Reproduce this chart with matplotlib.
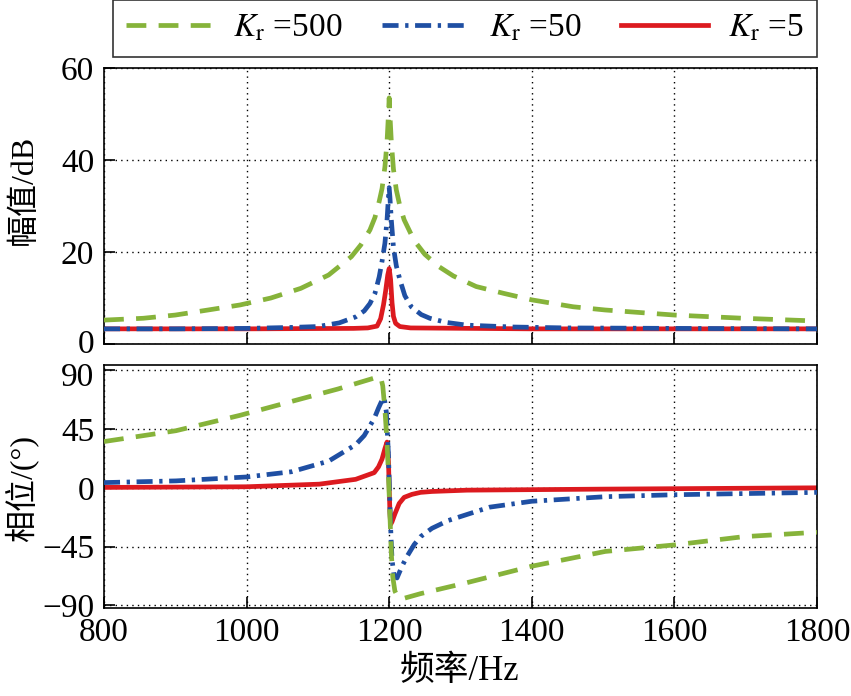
import matplotlib
matplotlib.use("Agg")
import matplotlib.pyplot as plt
import matplotlib.transforms as mtransforms
from matplotlib.lines import Line2D

plt.rcParams['font.family'] = ['Liberation Serif', 'Noto Sans CJK SC']
plt.rcParams['mathtext.fontset'] = 'stix'
plt.rcParams['font.size'] = 24

# magnitude (dB)
f_mag_500 = [800, 855, 900, 946, 991, 1034, 1076, 1115, 1147, 1160, 1173, 1180, 1186, 1190,
             1194, 1197, 1199, 1200, 1201, 1203, 1206, 1210, 1215, 1221, 1235, 1250, 1270,
             1290, 1322, 1361, 1400, 1458, 1503, 1600, 1697, 1800]
mag_500 = [5.2, 5.6, 6.3, 7.4, 8.5, 10.0, 12.1, 15.0, 19.0, 21.5, 24.8, 27.5, 31.0, 33.8,
           38.5, 44.0, 50.0, 53.5, 50.0, 44.0, 38.0, 33.5, 30.0, 27.0, 22.5, 19.5, 16.8,
           14.8, 12.5, 11.0, 9.6, 8.1, 7.4, 6.3, 5.6, 5.0]

f_mag_50 = [800, 900, 1000, 1060, 1100, 1130, 1153, 1165, 1173, 1180, 1186, 1190, 1194, 1197,
            1199, 1200, 1201, 1203, 1206, 1210, 1215, 1222, 1231, 1245, 1257, 1280, 1309,
            1374, 1450, 1600, 1800]
mag_50 = [3.3, 3.3, 3.4, 3.6, 3.8, 4.6, 5.9, 7.2, 8.8, 11.0, 14.6, 18.0, 21.9, 27.0,
          32.0, 34.0, 32.0, 27.0, 21.0, 17.0, 14.0, 10.5, 8.1, 6.4, 5.6, 4.7, 4.1,
          3.7, 3.5, 3.4, 3.3]

f_mag_5 = [800, 1000, 1150, 1170, 1183, 1188, 1192, 1195, 1198, 1200, 1202, 1204, 1206,
           1209, 1215, 1230, 1400, 1800]
mag_5 = [3.3, 3.3, 3.4, 3.5, 3.9, 5.5, 8.5, 11.5, 15.0, 16.4, 14.0, 9.0, 6.0,
         4.5, 3.8, 3.5, 3.3, 3.3]

# phase (deg)
f_ph_500 = [800, 901, 991, 1076, 1128, 1173, 1182, 1188, 1191, 1194, 1197, 1199, 1201, 1203,
            1205, 1208, 1212, 1218, 1244, 1309, 1400, 1503, 1600, 1697, 1800]
ph_500 = [35.4, 43.7, 55.5, 68.0, 75.6, 83.0, 84.5, 85.0, 78.0, 60.0, 35.0, 10.0, -20.0,
          -50.0, -68.0, -79.0, -83.5, -85.0, -81.0, -72.6, -60.0, -48.7, -43.7, -37.4, -34.0]

f_ph_50 = [800, 901, 1000, 1063, 1115, 1153, 1165, 1179, 1185, 1190, 1193, 1196, 1199, 1202,
           1204, 1207, 1211, 1218, 1225, 1235, 1244, 1260, 1283, 1341, 1400, 1503, 1600, 1800]
ph_50 = [4.0, 5.3, 8.3, 12.3, 20.4, 33.0, 40.0, 53.0, 61.0, 67.0, 69.0, 58.0, 25.0, -30.0,
         -55.0, -68.0, -69.0, -60.0, -52.5, -43.5, -37.4, -31.0, -25.0, -14.8, -10.3,
         -6.8, -5.3, -3.5]

f_ph_5 = [800, 1000, 1102, 1153, 1179, 1185, 1190, 1194, 1197, 1199, 1201, 1202, 1204, 1208,
          1214, 1221, 1232, 1244, 1260, 1309, 1500, 1800]
ph_5 = [0.3, 0.8, 2.8, 6.5, 11.6, 16.0, 22.0, 30.0, 35.0, 20.0, -18.0, -28.0, -26.0, -20.0,
        -12.0, -7.3, -5.0, -3.5, -2.8, -1.8, -1.0, 0.0]

labels = [r'$K_{\rm r}$ =500', r'$K_{\rm r}$ =50', r'$K_{\rm r}$ =5']
x_ticks = [800, 1000, 1200, 1400, 1600, 1800]

green = '#86b33a'
blue = '#1f4fa3'
red = '#dc1a1f'
lw = 3.4
st_500 = dict(color=green, lw=lw, dashes=(4.2, 2.6), zorder=4)
st_50 = dict(color=blue, lw=lw, dashes=(3.4, 1.4, 0.7, 1.4), zorder=3)
st_5 = dict(color=red, lw=lw, zorder=2)

fig = plt.figure(figsize=(8.51, 6.96), dpi=100)
ax1 = fig.add_axes([0.1222, 0.5057, 0.8378, 0.3966])
ax2 = fig.add_axes([0.1222, 0.1264, 0.8378, 0.3492])

ax1.plot(f_mag_5, mag_5, **st_5)
ax1.plot(f_mag_50, mag_50, **st_50)
ax1.plot(f_mag_500, mag_500, **st_500)
ax1.set_ylim(0, 60)
ax1.set_yticks([0, 20, 40, 60])
ax1.set_ylabel('幅值/dB', fontsize=23)
ax1.yaxis.set_label_coords(-0.092, 0.56)

ax2.plot(f_ph_5, ph_5, **st_5)
ax2.plot(f_ph_50, ph_50, **st_50)
ax2.plot(f_ph_500, ph_500, **st_500)
ax2.set_ylim(-92, 94)
ax2.set_yticks([90, 45, 0, -45, -90])
ax2.set_yticklabels(['90', '45', '0', '\u221245', '\u221290'])
ax2.set_xlabel('频率/Hz', fontsize=25)
ax2.xaxis.set_label_coords(0.499, -0.195)
ax2.set_ylabel('相位/(°)', fontsize=23)
ax2.yaxis.set_label_coords(-0.092, 0.49)

for ax in (ax1, ax2):
    ax.set_xlim(800, 1800)
    ax.set_xticks(x_ticks)
    ax.grid(True, color='black', linestyle=(0, (1, 3)), linewidth=1.0)
    ax.tick_params(direction='in', length=8, width=1.2, pad=7)
    for sp in ax.spines.values():
        sp.set_linewidth(1.2)
ax1.tick_params(labelbottom=False)

# nudge the stacked "0" / "90" labels apart a little
fig.canvas.draw()
up = mtransforms.ScaledTranslation(0, 2 / 72, fig.dpi_scale_trans)
down = mtransforms.ScaledTranslation(0, -3 / 72, fig.dpi_scale_trans)
lab0 = ax1.get_yticklabels()[0]
lab0.set_transform(lab0.get_transform() + up)
lab90 = ax2.get_yticklabels()[0]
lab90.set_transform(lab90.get_transform() + down)

handles = [Line2D([], [], **st_500), Line2D([], [], **st_50), Line2D([], [], **st_5)]
leg = fig.legend(handles, labels, loc='lower left', ncol=3, mode='expand',
                 bbox_to_anchor=(113 / 851, 1 - 57 / 696, 704 / 851, 54 / 696),
                 frameon=True, fancybox=False, edgecolor='black', handlelength=2.6,
                 handletextpad=0.6, borderaxespad=0.0, fontsize=24)
leg.get_frame().set_linewidth(1.2)

fig.savefig('out.png', dpi=100)
